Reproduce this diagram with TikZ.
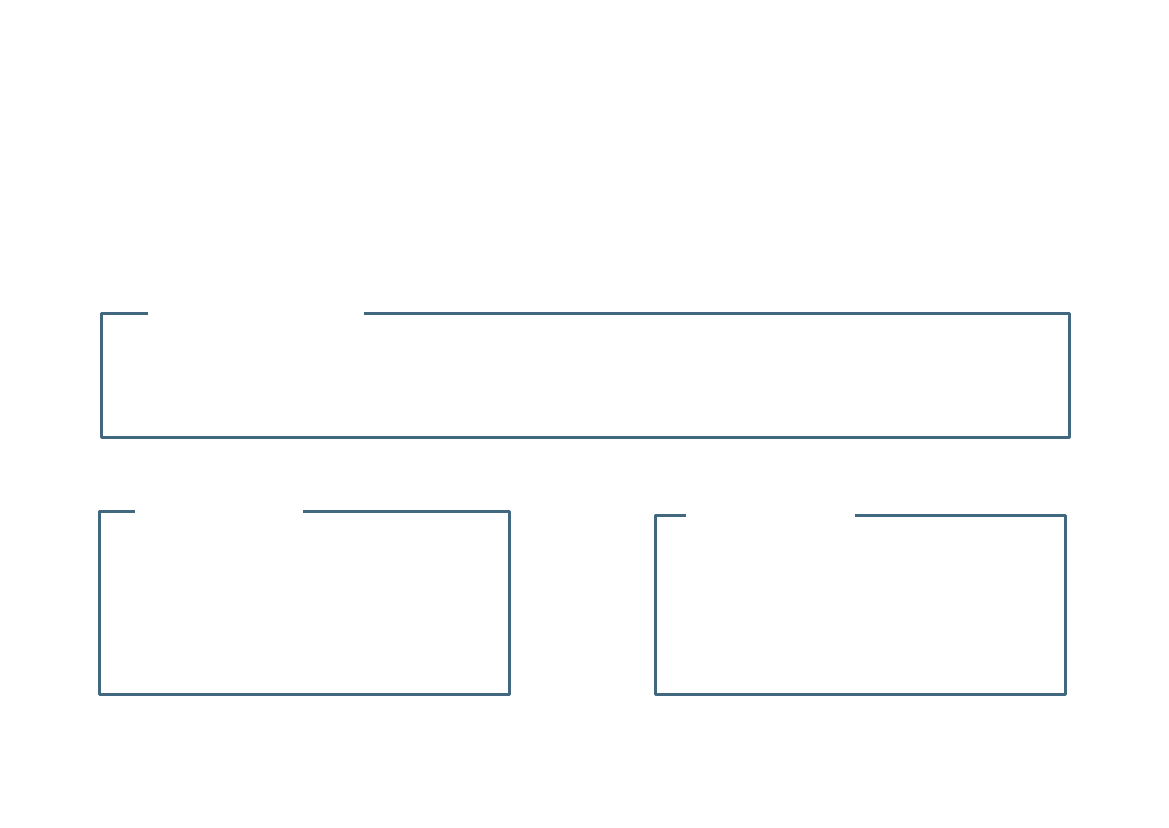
\documentclass[tikz,border=0pt]{standalone}
\usepackage{xcolor}
\usepackage{tikz}
\definecolor{framecol}{RGB}{66,104,128}

\begin{document}
\begin{tikzpicture}[x=1pt,y=-1pt,
  frame/.style={draw=framecol,line width=3pt,line join=round}]
  \useasboundingbox (0,0) rectangle (1169,827);

  % top box
  \coordinate (t1) at (101,313);
  \coordinate (t2) at (1069,437);
  \draw[frame] (364,313) -- (t2 |- t1) -- (t2) -- (t1 |- t2) -- (t1) -- (148,313);

  % lower left box
  \coordinate (l1) at (99,511);
  \coordinate (l2) at (509,694);
  \draw[frame] (303,511) -- (l2 |- l1) -- (l2) -- (l1 |- l2) -- (l1) -- (135,511);

  % lower right box
  \coordinate (r1) at (655,515);
  \coordinate (r2) at (1065,694);
  \draw[frame] (855,515) -- (r2 |- r1) -- (r2) -- (r1 |- r2) -- (r1) -- (686,515);
\end{tikzpicture}
\end{document}
